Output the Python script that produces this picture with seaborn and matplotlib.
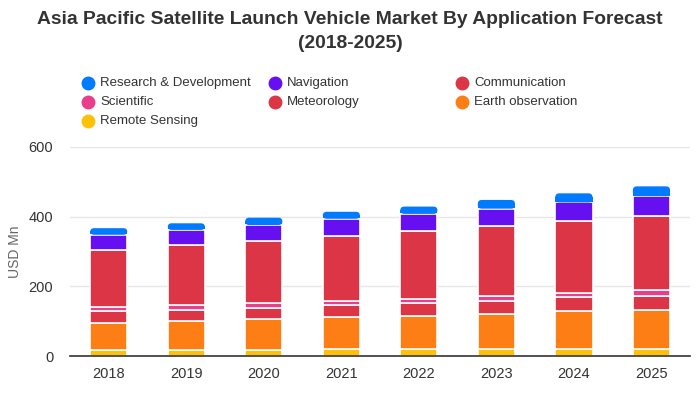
import matplotlib
matplotlib.use("Agg")
import matplotlib.pyplot as plt
from matplotlib.lines import Line2D
from matplotlib.patches import FancyBboxPatch, Rectangle
import seaborn as sns
import numpy as np

years = ["2018", "2019", "2020", "2021", "2022", "2023", "2024", "2025"]
remote_sensing = [16, 16, 16, 19, 19, 19, 19, 19]
earth_observation = [80, 84, 89, 92, 97, 103, 109, 114]
meteorology = [32, 33, 34, 34, 37, 37, 40, 40]
scientific = [12, 13, 12, 14, 12, 14, 14, 17]
communication = [165, 173, 179, 186, 194, 200, 206, 212]
navigation = [43, 43, 46, 49, 49, 50, 53, 57]
research_dev = [19, 19, 21, 20, 21, 25, 26, 28]

series = [
    ("Remote Sensing", remote_sensing, "#ffc107"),
    ("Earth observation", earth_observation, "#fd7e14"),
    ("Meteorology", meteorology, "#dc3545"),
    ("Scientific", scientific, "#e83e8c"),
    ("Communication", communication, "#dc3545"),
    ("Navigation", navigation, "#6610f2"),
    ("Research & Development", research_dev, "#007bff"),
]

sns.set_theme(style="white")
plt.rcParams["font.family"] = ["Liberation Sans", "DejaVu Sans"]

fig = plt.figure(figsize=(7, 4), dpi=100)
ax = fig.add_axes([0.1, 0.11, 0.886, 0.5225])

bottom = np.zeros(len(years))
for name, vals, col in series:
    sns.barplot(x=years, y=vals, bottom=bottom, color=col, width=0.48,
                edgecolor="white", linewidth=1.2, ax=ax, saturation=1)
    bottom = bottom + np.array(vals)

ax.set_ylim(0, 600)
ax.set_xlim(-0.5, len(years) - 0.5)

# round the top corners of the top segments
fig.canvas.draw()
bbox = ax.get_window_extent()
x_per_px = (len(years)) / bbox.width
y_per_px = 600 / bbox.height
top_patches = list(ax.patches)[-len(years):]
r_px = 4
for p in top_patches:
    x, y, w, h = p.get_x(), p.get_y(), p.get_width(), p.get_height()
    fc = p.get_facecolor()
    p.remove()
    rp = FancyBboxPatch((x, y), w, h,
                        boxstyle=f"round,pad=0,rounding_size={r_px * x_per_px}",
                        mutation_aspect=y_per_px / x_per_px,
                        facecolor=fc, edgecolor="none", zorder=2)
    ax.add_patch(rp)
    ax.add_patch(Rectangle((x, y + 0.6 * y_per_px), w, h / 2, facecolor=fc,
                           edgecolor="none", zorder=2))

ax.set_yticks([0, 200, 400, 600])
ax.yaxis.grid(True, color="#e6e6e6", linewidth=1)
ax.set_axisbelow(True)
for s in ["top", "right", "left"]:
    ax.spines[s].set_visible(False)
ax.spines["bottom"].set_color("#333333")
ax.spines["bottom"].set_linewidth(1.2)
ax.spines["bottom"].set_zorder(5)
ax.tick_params(axis="x", length=0, labelsize=10.5, colors="#333333", pad=8)
ax.tick_params(axis="y", length=0, labelsize=10.5, colors="#333333", pad=12)
ax.set_ylabel("USD Mn", fontsize=10, color="#666666", labelpad=5)
ax.set_xlabel("")

fig.text(0.5, 0.95, "Asia Pacific Satellite Launch Vehicle Market By Application Forecast",
         ha="center", va="center", fontsize=13.9, fontweight="bold", color="#333333")
fig.text(0.5, 0.89, "(2018-2025)", ha="center", va="center", fontsize=13.9,
         fontweight="bold", color="#333333")

legend_items = [
    ("Research & Development", "#007bff", 0, 0),
    ("Navigation", "#6610f2", 1, 0),
    ("Communication", "#dc3545", 2, 0),
    ("Scientific", "#e83e8c", 0, 1),
    ("Meteorology", "#dc3545", 1, 1),
    ("Earth observation", "#fd7e14", 2, 1),
    ("Remote Sensing", "#ffc107", 0, 2),
]
col_x = [88, 275, 462]
row_y = [83, 102, 121]
for name, col, c, r in legend_items:
    x = col_x[c] / 700
    y = 1 - row_y[r] / 400
    fig.add_artist(Line2D([x], [y], marker="o", markersize=9, color=col,
                          linestyle="none", transform=fig.transFigure))
    fig.text(x + 12 / 700, y, name, ha="left", va="center", fontsize=9.5,
             color="#333333")

fig.savefig("out.png", dpi=100)
